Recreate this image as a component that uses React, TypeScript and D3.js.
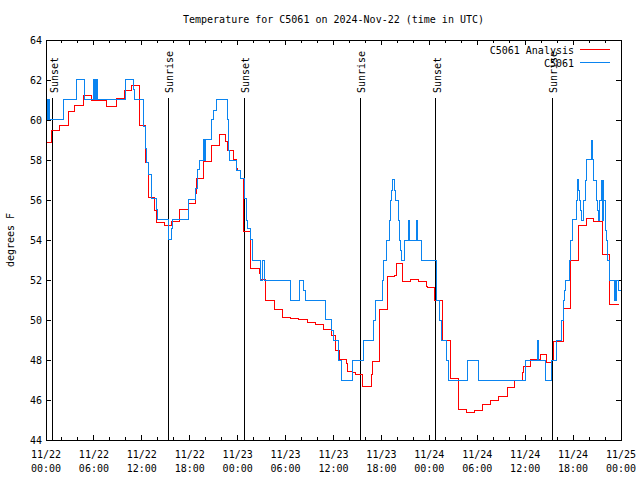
import React from "react";
import * as d3 from "d3";

const TITLE = "Temperature for C5061 on 2024-Nov-22 (time in UTC)";
const Y_LABEL = "degrees F";
const X_TICK_HOURS = [0, 6, 12, 18, 24, 30, 36, 42, 48, 54, 60, 66, 72];
const X_TICK_DATES = ["11/22", "11/22", "11/22", "11/22", "11/23", "11/23", "11/23", "11/23", "11/24", "11/24", "11/24", "11/24", "11/25"];
const X_TICK_TIMES = ["00:00", "06:00", "12:00", "18:00", "00:00", "06:00", "12:00", "18:00", "00:00", "06:00", "12:00", "18:00", "00:00"];
const Y_TICKS = [44, 46, 48, 50, 52, 54, 56, 58, 60, 62, 64];

const SUN_LABELS = ["Sunset", "Sunrise", "Sunset", "Sunrise", "Sunset", "Sunrise"];
const SUN_HOURS = [0.83, 15.32, 24.82, 39.35, 48.82, 63.38];

const SERIES_NAMES = ["C5061 Analysis", "C5061"];
const SERIES_COLORS = ["#ff0000", "#0a84f0"];

// Analysis (hours since 11/22 00:00 UTC, degrees F), step changes
const ANALYSIS_HOURS = [
  -0.3, 0.71, 1.67, 2.8, 3.63, 4.67, 5.7, 7.6, 8.77, 9.77, 10.7, 11.75, 12.5, 12.8, 13.6, 13.8,
  14.8, 15.7, 16.7, 17.8, 18.66, 18.8, 19.7, 20.7, 21.7, 22.5, 22.7, 23.5, 23.8, 24.0, 24.3, 24.75,
  25.6, 26.7, 26.8, 27.5, 28.6, 29.6, 30.6, 31.6, 32.7, 33.7, 34.7, 35.8, 36.3, 36.8, 37.6, 37.7,
  38.4, 38.7, 39.66, 40.75, 40.9, 41.7, 42.7, 43.6, 43.9, 44.7, 45.6, 46.6, 47.7, 47.8, 48.7, 49.6,
  50.6, 51.6, 52.7, 53.6, 54.7, 55.7, 56.7, 57.8, 58.7, 59.7, 59.85, 60.7, 61.9, 62.7, 63.35, 63.5,
  64.75, 65.7, 66.65, 67.7, 68.6, 69.7, 70.6, 71.7,
];
const ANALYSIS_TEMPS = [
  58.9, 59.5, 59.75, 60.42, 60.75, 61.25, 61.0, 60.67, 61.08, 61.5, 61.75, 59.75, 57.9, 56.13, 55.5, 54.87,
  54.75, 54.92, 55.53, 55.83, 56.33, 57.08, 57.92, 58.75, 59.3, 58.92, 58.5, 58.03, 57.58, 57.5, 57.1, 54.42,
  52.58, 52.33, 52.03, 51.0, 50.53, 50.13, 50.08, 50.03, 49.9, 49.78, 49.53, 49.25, 48.5, 48.03, 47.83, 47.45,
  47.4, 47.3, 46.7, 47.3, 47.95, 50.55, 52.17, 52.25, 52.82, 51.92, 52.05, 51.92, 51.7, 51.63, 51.0, 49.0,
  47.1, 45.53, 45.4, 45.5, 45.8, 46.0, 46.17, 46.63, 47.0, 47.37, 47.67, 48.03, 48.3, 47.88, 48.0, 48.92,
  50.58, 53.0, 54.75, 55.1, 54.92, 53.28, 50.8, 50.8,
];

// Observations
const OBS_HOURS = [
  -0.1, 0.16, 0.3, 0.42, 2.17, 3.84, 4.88, 5.95, 6.05, 6.2, 6.28, 6.38, 6.5, 10.0, 10.9, 11.05,
  12.15, 12.5, 12.6, 12.8, 13.2, 13.8, 13.95, 15.3, 15.75, 15.9, 17.8, 18.66, 18.96, 19.2, 19.7, 19.78,
  19.85, 19.93, 20.0, 20.75, 20.95, 21.29, 22.7, 22.8, 22.9, 23.0, 23.8, 24.3, 24.9, 25.05, 25.2, 25.55,
  25.9, 26.9, 27.05, 27.4, 30.64, 31.8, 32.3, 32.45, 34.94, 35.8, 35.95, 36.6, 37.05, 38.35, 39.7, 41.0,
  41.3, 42.16, 42.32, 42.66, 43.0, 43.08, 43.29, 43.41, 43.66, 43.8, 44.1, 44.3, 44.4, 44.5, 44.95, 45.45,
  45.55, 46.45, 46.55, 47.05, 48.84, 48.9, 49.3, 49.5, 50.1, 50.4, 52.75, 54.1, 60.0, 61.6, 61.7, 62.5,
  63.3, 63.95, 64.6, 64.86, 64.95, 65.1, 65.5, 65.7, 65.9, 66.4, 66.6, 66.7, 66.8, 66.95, 67.05, 67.3,
  67.5, 67.7, 68.3, 68.4, 68.6, 68.95, 69.05, 69.2, 69.35, 69.6, 69.7, 69.75, 69.85, 70.0, 70.2, 70.35,
  70.5, 71.16, 71.25, 71.34, 71.46, 71.67, 72.0,
];
const OBS_TEMPS = [
  61.03, 60.03, 61.03, 60.03, 61.03, 62.03, 61.03, 62.03, 61.03, 62.03, 61.03, 62.03, 61.03, 62.03, 61.55, 61.03,
  59.7, 58.58, 57.9, 57.3, 56.08, 55.53, 55.03, 54.03, 54.6, 55.03, 56.03, 56.58, 57.53, 57.97, 59.03, 57.97,
  59.03, 57.97, 59.03, 60.03, 60.5, 61.03, 60.03, 59.03, 58.5, 58.0, 57.5, 57.07, 56.08, 55.0, 54.58, 54.03,
  53.0, 52.0, 53.0, 52.0, 51.0, 52.0, 51.5, 51.0, 50.03, 49.5, 49.0, 48.0, 47.0, 48.0, 49.0, 50.0,
  51.0, 52.0, 53.0, 54.0, 55.0, 56.0, 56.5, 57.03, 56.5, 56.0, 55.0, 54.0, 53.5, 53.0, 54.0, 55.0,
  54.0, 55.0, 54.0, 53.0, 52.0, 51.0, 50.0, 49.0, 48.0, 47.0, 48.0, 47.0, 48.0, 49.0, 48.0, 47.0,
  48.0, 49.0, 50.0, 51.0, 51.5, 52.0, 53.0, 54.0, 55.03, 56.0, 57.03, 56.5, 56.0, 55.5, 55.0, 56.0,
  57.0, 58.03, 59.0, 58.03, 57.0, 56.0, 55.5, 55.0, 56.0, 57.0, 55.0, 57.0, 56.0, 54.5, 54.0, 53.0,
  52.0, 51.0, 52.0, 51.0, 52.0, 51.5, 51.5,
];

const W = 640;
const H = 480;
const FONT = "'DejaVu Sans Mono', 'Liberation Mono', monospace";

export default function App() {
  const x = d3.scaleLinear().domain([0, 72]).range([46, 621]);
  const y = d3.scaleLinear().domain([44, 64]).range([440, 40]);
  const [x0, x1] = x.range();
  const [yb, yt] = y.range();

  const line = d3
    .line<[number, number]>()
    .x((d) => x(d[0]))
    .y((d) => y(d[1]))
    .curve(d3.curveStepAfter);

  const analysis = ANALYSIS_HOURS.map((h, i) => [h, ANALYSIS_TEMPS[i]] as [number, number]);
  const obs = OBS_HOURS.map((h, i) => [h, OBS_TEMPS[i]] as [number, number]);

  const minorHours = d3.range(0, 73, 2).filter((h) => h % 6 !== 0);

  return (
    <svg
      width={W}
      height={H}
      style={{ position: "absolute", left: 0, top: 0, background: "#fff" }}
      fontFamily={FONT}
      fontSize={10}
    >
      <rect x={0} y={0} width={W} height={H} fill="#fff" />
      <defs>
        <clipPath id="plot">
          <rect x={x0} y={yt} width={x1 - x0} height={yb - yt} />
        </clipPath>
      </defs>

      <text x={(x0 + x1) / 2} y={23} textAnchor="middle" fill="#000">
        {TITLE}
      </text>
      <text
        transform={`translate(14,${(yt + yb) / 2}) rotate(-90)`}
        textAnchor="middle"
        fill="#000"
      >
        {Y_LABEL}
      </text>

      {/* y ticks */}
      {Y_TICKS.map((t) => (
        <g key={"y" + t}>
          <line x1={x0} x2={x0 + 5} y1={y(t)} y2={y(t)} stroke="#000" shapeRendering="crispEdges" />
          <line x1={x1} x2={x1 - 5} y1={y(t)} y2={y(t)} stroke="#000" shapeRendering="crispEdges" />
          <text x={x0 - 4} y={y(t) + 3.5} textAnchor="end" fill="#000">
            {t}
          </text>
        </g>
      ))}

      {/* x ticks */}
      {X_TICK_HOURS.map((h, i) => (
        <g key={"x" + h}>
          <line x1={x(h)} x2={x(h)} y1={yb} y2={yb - 5} stroke="#000" shapeRendering="crispEdges" />
          <line x1={x(h)} x2={x(h)} y1={yt} y2={yt + 5} stroke="#000" shapeRendering="crispEdges" />
          <text x={x(h)} y={458} textAnchor="middle" fill="#000">
            {X_TICK_DATES[i]}
          </text>
          <text x={x(h)} y={472} textAnchor="middle" fill="#000">
            {X_TICK_TIMES[i]}
          </text>
        </g>
      ))}
      {minorHours.map((h) => (
        <g key={"m" + h} shapeRendering="crispEdges">
          <line x1={x(h)} x2={x(h)} y1={yb} y2={yb - 3} stroke="#000" />
          <line x1={x(h)} x2={x(h)} y1={yt} y2={yt + 3} stroke="#000" />
        </g>
      ))}

      {/* sunrise / sunset markers */}
      {SUN_HOURS.map((h, i) => (
        <g key={"s" + i}>
          <line x1={x(h)} x2={x(h)} y1={98} y2={yb} stroke="#000" shapeRendering="crispEdges" />
          <text
            transform={`translate(${x(h) + 5},93) rotate(-90)`}
            textAnchor="start"
            fill="#000"
          >
            {SUN_LABELS[i]}
          </text>
        </g>
      ))}

      <g clipPath="url(#plot)" fill="none" shapeRendering="crispEdges">
        <path d={line(analysis) || ""} stroke={SERIES_COLORS[0]} strokeWidth={1} />
        <path d={line(obs) || ""} stroke={SERIES_COLORS[1]} strokeWidth={1} />
      </g>

      {/* legend */}
      {SERIES_NAMES.map((n, i) => (
        <g key={"l" + i}>
          <text x={574} y={54 + i * 13} textAnchor="end" fill="#000">
            {n}
          </text>
          <line
            x1={580}
            x2={610}
            y1={49.5 + i * 13}
            y2={49.5 + i * 13}
            stroke={SERIES_COLORS[i]}
            strokeWidth={1}
            shapeRendering="crispEdges"
          />
        </g>
      ))}

      <rect
        x={x0}
        y={yt}
        width={x1 - x0}
        height={yb - yt}
        fill="none"
        stroke="#000"
        shapeRendering="crispEdges"
      />
    </svg>
  );
}
